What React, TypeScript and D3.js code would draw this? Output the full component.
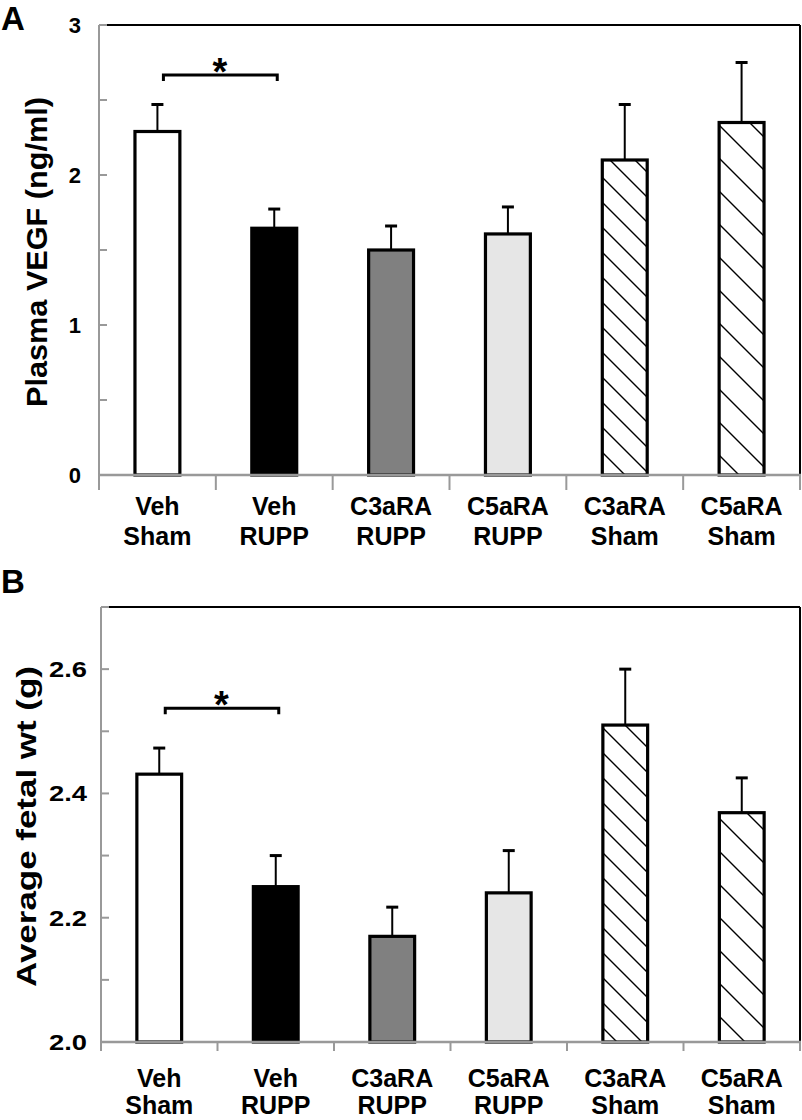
import React from "react";
import * as d3 from "d3";

const categories: string[][] = [
  ["Veh", "Sham"],
  ["Veh", "RUPP"],
  ["C3aRA", "RUPP"],
  ["C5aRA", "RUPP"],
  ["C3aRA", "Sham"],
  ["C5aRA", "Sham"],
];
const vegfMean = [2.29, 1.645, 1.5, 1.607, 2.1, 2.35];
const vegfErr = [0.18, 0.128, 0.16, 0.18, 0.37, 0.4];
const fetalMean = [2.431, 2.25, 2.17, 2.24, 2.51, 2.369];
const fetalErr = [0.042, 0.05, 0.047, 0.068, 0.09, 0.056];
const vegfTicks = [0, 0.5, 1, 1.5, 2, 2.5, 3];
const vegfLabels = [0, 1, 2, 3];
const fetalTicks = [2.0, 2.1, 2.2, 2.3, 2.4, 2.5, 2.6, 2.7];
const fetalLabels = [2.0, 2.2, 2.4, 2.6];

const FILLS = ["#ffffff", "#000000", "#808080", "#e6e6e6", "url(#hatchA)", "url(#hatchB)"];
const FONT = "'Liberation Sans', Arial, Helvetica, sans-serif";
const AXIS_GRAY = "#999999";

type PanelProps = {
  letter: string;
  letterY: number;
  left: number;
  right: number;
  top: number;
  bottom: number;
  domain: [number, number];
  ticks: number[];
  labels: number[];
  fmt: (v: number) => string;
  labelRight: number;
  labelLen?: number;
  means: number[];
  errs: number[];
  title: string;
  titleX: number;
  titleLen: number;
  titleSize: number;
  sigY: number;
  bottomTick: number;
  xLabelY: number;
  lineGap: number;
};

function Panel(p: PanelProps) {
  const x = d3
    .scaleBand<number>()
    .domain(categories.map((_, i) => i))
    .range([p.left, p.right])
    .paddingInner(0.59)
    .paddingOuter(0.295);
  const y = d3.scaleLinear().domain(p.domain).range([p.bottom, p.top]);
  const bw = x.bandwidth();
  const step = x.step();
  const boundaries = d3.range(categories.length + 1).map((i) => p.left + i * step);
  const c0 = x(0)! + bw / 2;
  const c1 = x(1)! + bw / 2;
  const sy = y(p.sigY);
  return (
    <g>
      <text x={1} y={p.letterY} fontFamily={FONT} fontWeight="bold" fontSize={33}>
        {p.letter}
      </text>
      {/* bars */}
      {p.means.map((m, i) => {
        const x0 = x(i)!;
        const yt = y(m);
        const cx = x0 + bw / 2;
        const ye = y(m + p.errs[i]);
        return (
          <g key={i}>
            <line x1={cx} x2={cx} y1={yt} y2={ye} stroke="#000" strokeWidth={2} />
            <line x1={cx - 6} x2={cx + 6} y1={ye} y2={ye} stroke="#000" strokeWidth={3} />
            <rect
              x={x0 + 1.5}
              y={yt}
              width={bw - 3}
              height={p.bottom - yt}
              fill={FILLS[i]}
              stroke="#000"
              strokeWidth={3.2}
            />
          </g>
        );
      })}
      {/* frame top/right */}
      <line x1={p.left} x2={p.right} y1={p.top} y2={p.top} stroke="#000" strokeWidth={2} />
      <line x1={p.right} x2={p.right} y1={p.top} y2={p.bottom} stroke="#000" strokeWidth={2} />
      {/* left axis */}
      <line x1={p.left} x2={p.left} y1={p.top} y2={p.bottom} stroke={AXIS_GRAY} strokeWidth={2} />
      {p.ticks.map((t, i) => (
        <line key={i} x1={p.left} x2={p.left + 8} y1={y(t)} y2={y(t)} stroke={AXIS_GRAY} strokeWidth={2} />
      ))}
      {p.labels.map((t, i) => (
        <text
          key={i}
          x={p.labelRight}
          y={y(t)}
          dy="0.36em"
          textAnchor="end"
          fontFamily={FONT}
          fontWeight="bold"
          fontSize={22}
          textLength={p.labelLen}
          lengthAdjust={p.labelLen ? "spacingAndGlyphs" : undefined}
        >
          {p.fmt(t)}
        </text>
      ))}
      {/* bottom axis */}
      <line x1={p.left - 1} x2={p.right + 1} y1={p.bottom} y2={p.bottom} stroke={AXIS_GRAY} strokeWidth={2.5} />
      {boundaries.map((b, i) => (
        <line key={i} x1={b} x2={b} y1={p.bottom} y2={p.bottom + p.bottomTick} stroke={AXIS_GRAY} strokeWidth={2} />
      ))}
      {categories.map((c, i) => (
        <text
          key={i}
          x={x(i)! + bw / 2}
          y={p.xLabelY}
          textAnchor="middle"
          fontFamily={FONT}
          fontWeight="bold"
          fontSize={25}
        >
          <tspan x={x(i)! + bw / 2}>{c[0]}</tspan>
          <tspan x={x(i)! + bw / 2} dy={p.lineGap}>
            {c[1]}
          </tspan>
        </text>
      ))}
      {/* y title */}
      <text
        transform={`translate(${p.titleX},${(p.top + p.bottom) / 2 + 2}) rotate(-90)`}
        textAnchor="middle"
        fontFamily={FONT}
        fontWeight="bold"
        fontSize={p.titleSize}
        textLength={p.titleLen}
        lengthAdjust="spacingAndGlyphs"
      >
        {p.title}
      </text>
      {/* significance bracket */}
      <path
        d={`M${c0 + 6},${sy + 6} V${sy} H${c1 + 3} V${sy + 6}`}
        fill="none"
        stroke="#000"
        strokeWidth={3}
      />
      <text
        x={(c0 + c1) / 2 + 4}
        y={sy + 10}
        textAnchor="middle"
        fontFamily={FONT}
        fontWeight="bold"
        fontSize={38}
      >
        *
      </text>
    </g>
  );
}

export default function App() {
  return (
    <svg
      width={802}
      height={1120}
      viewBox="0 0 802 1120"
      style={{ position: "absolute", left: 0, top: 0, background: "#fff" }}
    >
      <defs>
        <pattern id="hatchA" patternUnits="userSpaceOnUse" width={25} height={25}>
          <path d="M-2,-2 L27,27 M-2,23 L2,27 M23,-2 L27,2" stroke="#000" strokeWidth={1.4} />
        </pattern>
        <pattern id="hatchB" patternUnits="userSpaceOnUse" width={33} height={33}>
          <path d="M-2,-2 L35,35 M-2,31 L2,35 M31,-2 L35,2" stroke="#000" strokeWidth={1.4} />
        </pattern>
      </defs>
      <rect width={802} height={1120} fill="#fff" />
      <Panel
        letter="A"
        letterY={30}
        left={99}
        right={800}
        top={25}
        bottom={475}
        domain={[0, 3]}
        ticks={vegfTicks}
        labels={vegfLabels}
        fmt={(v) => d3.format("d")(v)}
        labelRight={81}
        means={vegfMean}
        errs={vegfErr}
        title="Plasma VEGF (ng/ml)"
        titleX={47}
        titleLen={310}
        titleSize={29}
        sigY={2.667}
        bottomTick={15}
        xLabelY={515}
        lineGap={30}
      />
      <Panel
        letter="B"
        letterY={593}
        left={101}
        right={800}
        top={607}
        bottom={1042}
        domain={[2.0, 2.7]}
        ticks={fetalTicks}
        labels={fetalLabels}
        fmt={(v) => d3.format(".1f")(v)}
        labelRight={87}
        labelLen={38}
        means={fetalMean}
        errs={fetalErr}
        title="Average fetal wt (g)"
        titleX={36}
        titleLen={321}
        titleSize={28}
        sigY={2.537}
        bottomTick={9}
        xLabelY={1087}
        lineGap={27}
      />
    </svg>
  );
}
